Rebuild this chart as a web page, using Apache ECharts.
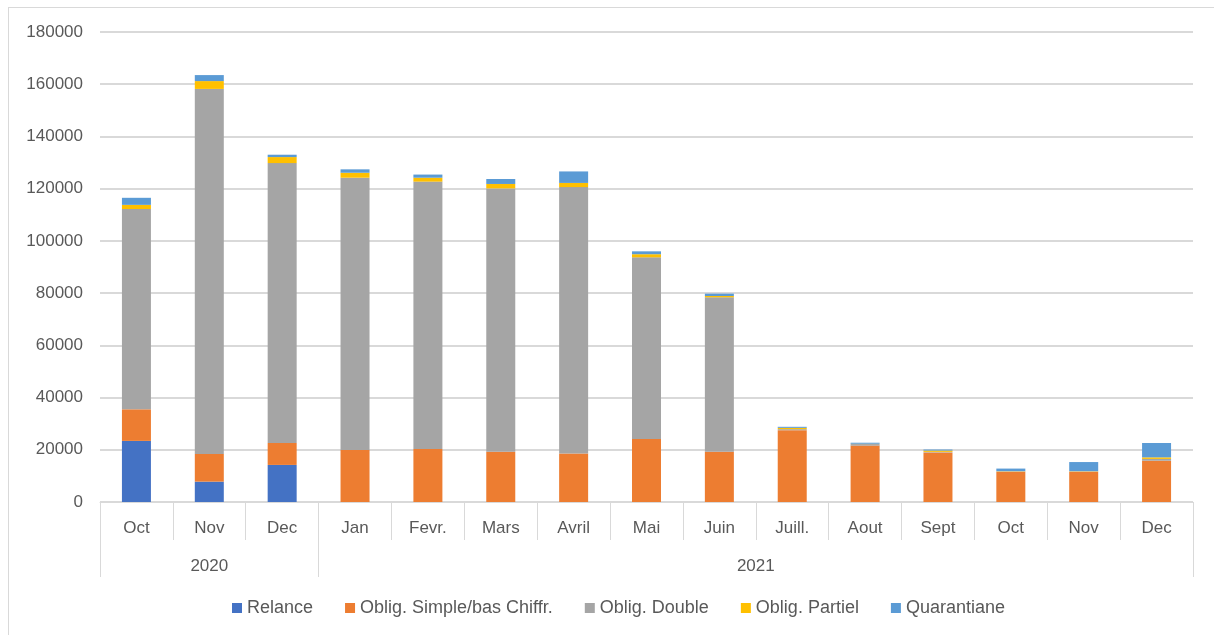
<!DOCTYPE html>
<html>
<head>
<meta charset="utf-8">
<script src="https://cdn.jsdelivr.net/npm/echarts@6/dist/echarts.min.js"></script>
<style>
html,body{margin:0;padding:0;background:#fff;}
#frame{position:absolute;left:8px;top:7px;width:1300px;height:700px;border-left:1px solid #d9d9d9;border-top:1px solid #d9d9d9;}
#chart{position:absolute;left:0;top:0;width:1214px;height:635px;}
</style>
</head>
<body>
<div id="frame"></div>
<div id="chart"></div>
<script>
const months = ['Oct','Nov','Dec','Jan','Fevr.','Mars','Avril','Mai','Juin','Juill.','Aout','Sept','Oct','Nov','Dec'];
const years = ['2020','2021'];
const yearSpans = [3, 12];
const seriesNames = ['Relance','Oblig. Simple/bas Chiffr.','Oblig. Double','Oblig. Partiel','Quarantiane'];
const relance = [23400, 7800, 14200, 0, 0, 0, 0, 0, 0, 0, 0, 0, 0, 0, 0];
const simple  = [12100, 10600, 8400, 19900, 20300, 19200, 18600, 24100, 19200, 27500, 21600, 19000, 11600, 11600, 15800];
const double_ = [76700, 139800, 107200, 104300, 102400, 100900, 102000, 69600, 59200, 400, 600, 200, 100, 100, 700];
const partiel = [1600, 3000, 2300, 1900, 1500, 1700, 1600, 1200, 500, 500, 100, 500, 100, 100, 600];
const quar    = [2700, 2300, 900, 1300, 1200, 1900, 4400, 1100, 900, 400, 400, 400, 1000, 3500, 5500];
const yTicks = [0, 20000, 40000, 60000, 80000, 100000, 120000, 140000, 160000, 180000];

const colors = ['#4472C4','#ED7D31','#A5A5A5','#FFC000','#5B9BD5'];
const allData = [relance, simple, double_, partiel, quar];

// year group boundaries and centres
const yearBounds = [0];
const yearCentres = [];
yearSpans.forEach((s) => {
  const start = yearBounds[yearBounds.length - 1];
  yearCentres.push(start + s / 2);
  yearBounds.push(start + s);
});

const font = 'Liberation Sans, Arial, sans-serif';
const txt = '#595959';
const lineC = '#d9d9d9';

const chart = echarts.init(document.getElementById('chart'), null, {renderer: 'canvas'});
chart.setOption({
  animation: false,
  color: colors,
  textStyle: {fontFamily: font},
  grid: {left: 100, right: 21, top: 32, bottom: 133, containLabel: false},
  legend: {
    bottom: 13,
    left: 227,
    icon: 'rect',
    itemWidth: 10,
    itemHeight: 10,
    itemGap: 32,
    textStyle: {color: txt, fontSize: 18, fontFamily: font},
    data: seriesNames
  },
  xAxis: [
    {
      type: 'category',
      data: months,
      position: 'bottom',
      axisLine: {show: true, lineStyle: {color: lineC, width: 1}},
      axisTick: {show: true, interval: 0, length: 38, lineStyle: {color: lineC}},
      axisLabel: {interval: 0, color: txt, fontSize: 17, margin: 18, fontFamily: font}
    },
    {
      type: 'value',
      min: 0,
      max: months.length,
      position: 'bottom',
      axisLine: {show: false},
      splitLine: {show: false},
      axisTick: {show: true, length: 75, customValues: yearBounds, lineStyle: {color: lineC}},
      axisLabel: {
        color: txt, fontSize: 17, margin: 56, fontFamily: font,
        customValues: yearCentres,
        formatter: (v) => years[yearCentres.indexOf(v)] || ''
      }
    }
  ],
  yAxis: {
    type: 'value',
    min: 0,
    max: 180000,
    interval: 20000,
    axisLine: {show: false},
    axisTick: {show: false},
    splitLine: {lineStyle: {color: lineC, width: 2}},
    axisLabel: {color: txt, fontSize: 17, margin: 17, fontFamily: font, formatter: (v) => String(v)}
  },
  series: seriesNames.map((n, i) => ({
    name: n,
    type: 'bar',
    stack: 'total',
    xAxisIndex: 0,
    barWidth: 29,
    data: allData[i],
    itemStyle: {color: colors[i]},
    emphasis: {disabled: true}
  }))
});
</script>
</body>
</html>
